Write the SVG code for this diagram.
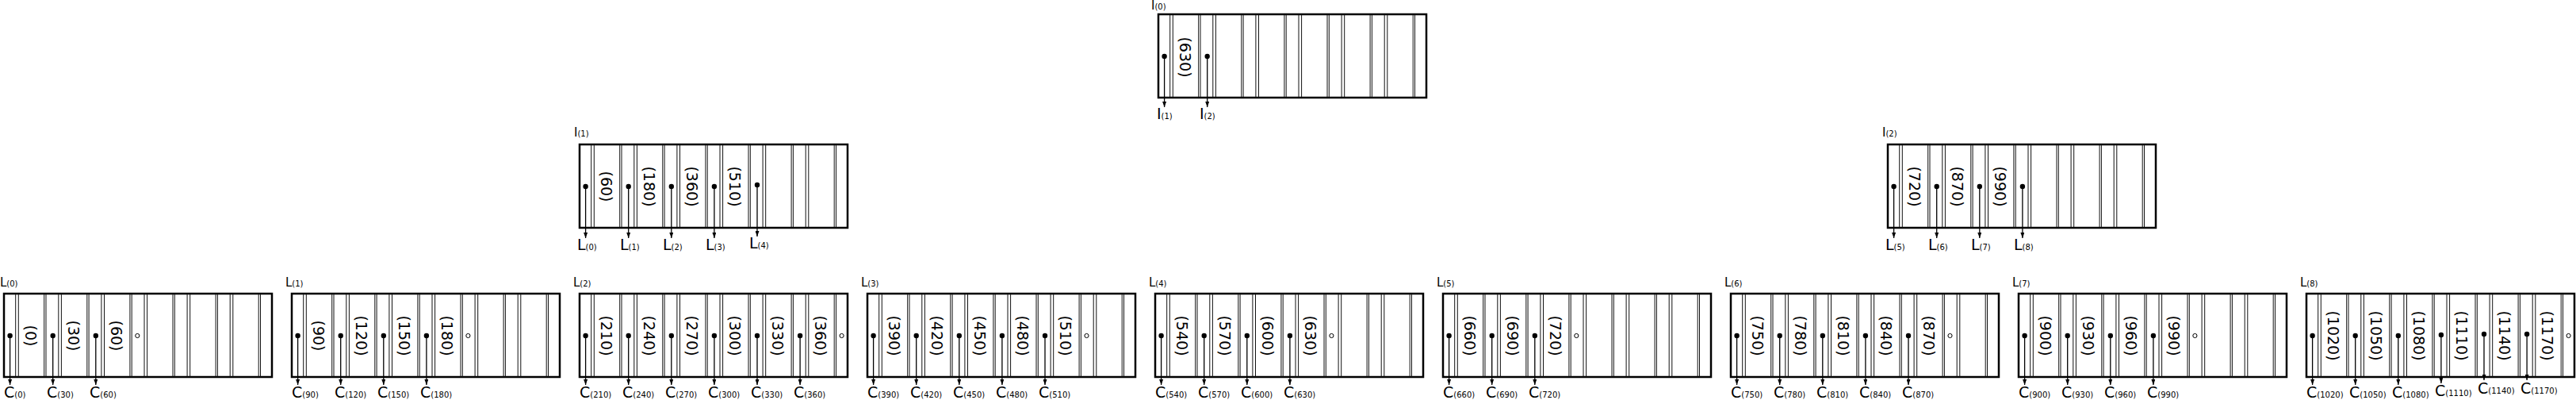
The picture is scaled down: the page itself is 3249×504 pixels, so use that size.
<svg xmlns="http://www.w3.org/2000/svg" xmlns:xlink="http://www.w3.org/1999/xlink" width="3249" height="504" viewBox="0 0 3249 504">
<style>
.bg{fill:#fff}
.box{fill:#fff;stroke:#000;stroke-width:2.5}
.div{fill:none;stroke:#111;stroke-width:1}
.dot{fill:#000}
.hol{fill:#fff;stroke:#000;stroke-width:1}
.arr{stroke:#000;stroke-width:1.3;fill:none;marker-end:url(#ah)}
text{font-family:"DejaVu Sans","Liberation Sans",sans-serif;fill:#000}
.key{font-size:19px;text-anchor:middle;dominant-baseline:central}
.nl{font-size:15px}
.tl{font-size:19px}
.sub{font-size:10px}
</style>
<defs>
<marker id="ah" markerWidth="7" markerHeight="5" refX="7" refY="2.5" orient="auto" markerUnits="userSpaceOnUse"><path d="M0,0 L7,2.5 L0,5 z" fill="#000"/></marker>
<g id="frame">
<rect class="box" x="0" y="0" width="338" height="105"/>
<path class="div" d="M14.7 0V105M18.3 0V105M50.7 0V105M53 0V105M68.8 0V105M72.4 0V105M104.8 0V105M107.1 0V105M122.9 0V105M126.5 0V105M158.9 0V105M161.2 0V105M177 0V105M180.6 0V105M213 0V105M215.3 0V105M231.1 0V105M234.7 0V105M267.1 0V105M269.4 0V105M285.2 0V105M288.8 0V105M321.2 0V105M323.5 0V105"/>
</g>
</defs>
<rect class="bg" x="0" y="0" width="3249" height="504"/>

<g id="I0">
<use xlink:href="#frame" x="1461" y="18"/>
<text class="nl" x="1452" y="12">I<tspan class="sub">(0)</tspan></text>
<circle class="dot" cx="1468.6" cy="71" r="3.2"/><circle class="dot" cx="1522.7" cy="71" r="3.2"/>
<text class="key" transform="translate(1494.5,72) rotate(90)">(630)</text>
</g>

<g id="I1">
<use xlink:href="#frame" x="731" y="182"/>
<text class="nl" x="724" y="172">I<tspan class="sub">(1)</tspan></text>
<circle class="dot" cx="738.6" cy="235" r="3.2"/><circle class="dot" cx="792.7" cy="235" r="3.2"/><circle class="dot" cx="846.8" cy="235" r="3.2"/><circle class="dot" cx="900.9" cy="235" r="3.2"/><circle class="dot" cx="955" cy="233" r="3.2"/>
<text class="key" transform="translate(764.5,235) rotate(90)">(60)</text>
<text class="key" transform="translate(818.6,235) rotate(90)">(180)</text>
<text class="key" transform="translate(872.7,235) rotate(90)">(360)</text>
<text class="key" transform="translate(926.8,235) rotate(90)">(510)</text>
</g>

<g id="I2">
<use xlink:href="#frame" x="2381" y="182"/>
<text class="nl" x="2374" y="172">I<tspan class="sub">(2)</tspan></text>
<circle class="dot" cx="2388.6" cy="235" r="3.2"/><circle class="dot" cx="2442.7" cy="235" r="3.2"/><circle class="dot" cx="2496.8" cy="235" r="3.2"/><circle class="dot" cx="2550.9" cy="235" r="3.2"/>
<text class="key" transform="translate(2414.5,235) rotate(90)">(720)</text>
<text class="key" transform="translate(2468.6,235) rotate(90)">(870)</text>
<text class="key" transform="translate(2522.7,235) rotate(90)">(990)</text>
</g>

<g id="L0">
<use xlink:href="#frame" x="5" y="370"/>
<text class="nl" x="0" y="361">L<tspan class="sub">(0)</tspan></text>
<circle class="dot" cx="12.6" cy="423" r="3.2"/><circle class="dot" cx="66.7" cy="423" r="3.2"/><circle class="dot" cx="120.8" cy="423" r="3.2"/>
<text class="key" transform="translate(38.5,423) rotate(90)">(0)</text>
<text class="key" transform="translate(92.6,423) rotate(90)">(30)</text>
<text class="key" transform="translate(146.7,423) rotate(90)">(60)</text>
<circle class="hol" cx="173.3" cy="423" r="2.6"/>
</g>

<g id="L1">
<use xlink:href="#frame" x="368" y="370"/>
<text class="nl" x="360" y="361">L<tspan class="sub">(1)</tspan></text>
<circle class="dot" cx="375.6" cy="423" r="3.2"/><circle class="dot" cx="429.7" cy="423" r="3.2"/><circle class="dot" cx="483.8" cy="423" r="3.2"/><circle class="dot" cx="537.9" cy="423" r="3.2"/>
<text class="key" transform="translate(401.5,423) rotate(90)">(90)</text>
<text class="key" transform="translate(455.6,423) rotate(90)">(120)</text>
<text class="key" transform="translate(509.7,423) rotate(90)">(150)</text>
<text class="key" transform="translate(563.8,423) rotate(90)">(180)</text>
<circle class="hol" cx="590.4" cy="423" r="2.6"/>
</g>

<g id="L2">
<use xlink:href="#frame" x="731" y="370"/>
<text class="nl" x="723" y="361">L<tspan class="sub">(2)</tspan></text>
<circle class="dot" cx="738.6" cy="423" r="3.2"/><circle class="dot" cx="792.7" cy="423" r="3.2"/><circle class="dot" cx="846.8" cy="423" r="3.2"/><circle class="dot" cx="900.9" cy="423" r="3.2"/><circle class="dot" cx="955" cy="423" r="3.2"/><circle class="dot" cx="1009.1" cy="423" r="3.2"/>
<text class="key" transform="translate(764.5,423) rotate(90)">(210)</text>
<text class="key" transform="translate(818.6,423) rotate(90)">(240)</text>
<text class="key" transform="translate(872.7,423) rotate(90)">(270)</text>
<text class="key" transform="translate(926.8,423) rotate(90)">(300)</text>
<text class="key" transform="translate(980.9,423) rotate(90)">(330)</text>
<text class="key" transform="translate(1035,423) rotate(90)">(360)</text>
<circle class="hol" cx="1061.6" cy="423" r="2.6"/>
</g>

<g id="L3">
<use xlink:href="#frame" x="1094" y="370"/>
<text class="nl" x="1086" y="361">L<tspan class="sub">(3)</tspan></text>
<circle class="dot" cx="1101.6" cy="423" r="3.2"/><circle class="dot" cx="1155.7" cy="423" r="3.2"/><circle class="dot" cx="1209.8" cy="423" r="3.2"/><circle class="dot" cx="1263.9" cy="423" r="3.2"/><circle class="dot" cx="1318" cy="423" r="3.2"/>
<text class="key" transform="translate(1127.5,423) rotate(90)">(390)</text>
<text class="key" transform="translate(1181.6,423) rotate(90)">(420)</text>
<text class="key" transform="translate(1235.7,423) rotate(90)">(450)</text>
<text class="key" transform="translate(1289.8,423) rotate(90)">(480)</text>
<text class="key" transform="translate(1343.9,423) rotate(90)">(510)</text>
<circle class="hol" cx="1370.5" cy="423" r="2.6"/>
</g>

<g id="L4">
<use xlink:href="#frame" x="1457" y="370"/>
<text class="nl" x="1449" y="361">L<tspan class="sub">(4)</tspan></text>
<circle class="dot" cx="1464.6" cy="423" r="3.2"/><circle class="dot" cx="1518.7" cy="423" r="3.2"/><circle class="dot" cx="1572.8" cy="423" r="3.2"/><circle class="dot" cx="1626.9" cy="423" r="3.2"/>
<text class="key" transform="translate(1490.5,423) rotate(90)">(540)</text>
<text class="key" transform="translate(1544.6,423) rotate(90)">(570)</text>
<text class="key" transform="translate(1598.7,423) rotate(90)">(600)</text>
<text class="key" transform="translate(1652.8,423) rotate(90)">(630)</text>
<circle class="hol" cx="1679.4" cy="423" r="2.6"/>
</g>

<g id="L5">
<use xlink:href="#frame" x="1820" y="370"/>
<text class="nl" x="1812" y="361">L<tspan class="sub">(5)</tspan></text>
<circle class="dot" cx="1827.6" cy="423" r="3.2"/><circle class="dot" cx="1881.7" cy="423" r="3.2"/><circle class="dot" cx="1935.8" cy="423" r="3.2"/>
<text class="key" transform="translate(1853.5,423) rotate(90)">(660)</text>
<text class="key" transform="translate(1907.6,423) rotate(90)">(690)</text>
<text class="key" transform="translate(1961.7,423) rotate(90)">(720)</text>
<circle class="hol" cx="1988.3" cy="423" r="2.6"/>
</g>

<g id="L6">
<use xlink:href="#frame" x="2183" y="370"/>
<text class="nl" x="2175" y="361">L<tspan class="sub">(6)</tspan></text>
<circle class="dot" cx="2190.6" cy="423" r="3.2"/><circle class="dot" cx="2244.7" cy="423" r="3.2"/><circle class="dot" cx="2298.8" cy="423" r="3.2"/><circle class="dot" cx="2352.9" cy="423" r="3.2"/><circle class="dot" cx="2407" cy="423" r="3.2"/>
<text class="key" transform="translate(2216.5,423) rotate(90)">(750)</text>
<text class="key" transform="translate(2270.6,423) rotate(90)">(780)</text>
<text class="key" transform="translate(2324.7,423) rotate(90)">(810)</text>
<text class="key" transform="translate(2378.8,423) rotate(90)">(840)</text>
<text class="key" transform="translate(2432.9,423) rotate(90)">(870)</text>
<circle class="hol" cx="2459.5" cy="423" r="2.6"/>
</g>

<g id="L7">
<use xlink:href="#frame" x="2546" y="370"/>
<text class="nl" x="2538" y="361">L<tspan class="sub">(7)</tspan></text>
<circle class="dot" cx="2553.6" cy="423" r="3.2"/><circle class="dot" cx="2607.7" cy="423" r="3.2"/><circle class="dot" cx="2661.8" cy="423" r="3.2"/><circle class="dot" cx="2715.9" cy="423" r="3.2"/>
<text class="key" transform="translate(2579.5,423) rotate(90)">(900)</text>
<text class="key" transform="translate(2633.6,423) rotate(90)">(930)</text>
<text class="key" transform="translate(2687.7,423) rotate(90)">(960)</text>
<text class="key" transform="translate(2741.8,423) rotate(90)">(990)</text>
<circle class="hol" cx="2768.4" cy="423" r="2.6"/>
</g>

<g id="L8">
<use xlink:href="#frame" x="2909" y="370"/>
<text class="nl" x="2901" y="361">L<tspan class="sub">(8)</tspan></text>
<circle class="dot" cx="2916.6" cy="423" r="3.2"/><circle class="dot" cx="2970.7" cy="423" r="3.2"/><circle class="dot" cx="3024.8" cy="423" r="3.2"/><circle class="dot" cx="3078.9" cy="422" r="3.2"/><circle class="dot" cx="3133" cy="421" r="3.2"/><circle class="dot" cx="3187.1" cy="421" r="3.2"/>
<text class="key" transform="translate(2942.5,423) rotate(90)">(1020)</text>
<text class="key" transform="translate(2996.6,423) rotate(90)">(1050)</text>
<text class="key" transform="translate(3050.7,423) rotate(90)">(1080)</text>
<text class="key" transform="translate(3104.8,423) rotate(90)">(1110)</text>
<text class="key" transform="translate(3158.9,423) rotate(90)">(1140)</text>
<text class="key" transform="translate(3213,423) rotate(90)">(1170)</text>
<circle class="hol" cx="3239.6" cy="423" r="2.6"/>
</g>

<g id="connectors">
<path class="arr" d="M1468.6 71V135"/><path class="arr" d="M1522.7 71V135"/>
<text class="tl" x="1459" y="150">I<tspan class="sub">(1)</tspan></text>
<text class="tl" x="1513" y="150">I<tspan class="sub">(2)</tspan></text>

<path class="arr" d="M738.6 235V300"/><path class="arr" d="M792.7 235V300"/><path class="arr" d="M846.8 235V300"/><path class="arr" d="M900.9 235V300"/><path class="arr" d="M955 233V298"/>
<text class="tl" x="728" y="315">L<tspan class="sub">(0)</tspan></text>
<text class="tl" x="782" y="315">L<tspan class="sub">(1)</tspan></text>
<text class="tl" x="836" y="315">L<tspan class="sub">(2)</tspan></text>
<text class="tl" x="890" y="315">L<tspan class="sub">(3)</tspan></text>
<text class="tl" x="945" y="313">L<tspan class="sub">(4)</tspan></text>

<path class="arr" d="M2388.6 235V300"/><path class="arr" d="M2442.7 235V300"/><path class="arr" d="M2496.8 235V300"/><path class="arr" d="M2550.9 235V300"/>
<text class="tl" x="2378" y="315">L<tspan class="sub">(5)</tspan></text>
<text class="tl" x="2432" y="315">L<tspan class="sub">(6)</tspan></text>
<text class="tl" x="2486" y="315">L<tspan class="sub">(7)</tspan></text>
<text class="tl" x="2540" y="315">L<tspan class="sub">(8)</tspan></text>

<path class="arr" d="M12.6 423V485"/><path class="arr" d="M66.7 423V485"/><path class="arr" d="M120.8 423V485"/>
<text class="tl" x="5" y="501">C<tspan class="sub">(0)</tspan></text>
<text class="tl" x="59" y="501">C<tspan class="sub">(30)</tspan></text>
<text class="tl" x="113" y="501">C<tspan class="sub">(60)</tspan></text>

<path class="arr" d="M375.6 423V485"/><path class="arr" d="M429.7 423V485"/><path class="arr" d="M483.8 423V485"/><path class="arr" d="M537.9 423V485"/>
<text class="tl" x="368" y="501">C<tspan class="sub">(90)</tspan></text>
<text class="tl" x="422" y="501">C<tspan class="sub">(120)</tspan></text>
<text class="tl" x="476" y="501">C<tspan class="sub">(150)</tspan></text>
<text class="tl" x="530" y="501">C<tspan class="sub">(180)</tspan></text>

<path class="arr" d="M738.6 423V485"/><path class="arr" d="M792.7 423V485"/><path class="arr" d="M846.8 423V485"/><path class="arr" d="M900.9 423V485"/><path class="arr" d="M955 423V485"/><path class="arr" d="M1009.1 423V485"/>
<text class="tl" x="731" y="501">C<tspan class="sub">(210)</tspan></text>
<text class="tl" x="785" y="501">C<tspan class="sub">(240)</tspan></text>
<text class="tl" x="839" y="501">C<tspan class="sub">(270)</tspan></text>
<text class="tl" x="893" y="501">C<tspan class="sub">(300)</tspan></text>
<text class="tl" x="947" y="501">C<tspan class="sub">(330)</tspan></text>
<text class="tl" x="1001" y="501">C<tspan class="sub">(360)</tspan></text>

<path class="arr" d="M1101.6 423V485"/><path class="arr" d="M1155.7 423V485"/><path class="arr" d="M1209.8 423V485"/><path class="arr" d="M1263.9 423V485"/><path class="arr" d="M1318 423V485"/>
<text class="tl" x="1094" y="501">C<tspan class="sub">(390)</tspan></text>
<text class="tl" x="1148" y="501">C<tspan class="sub">(420)</tspan></text>
<text class="tl" x="1202" y="501">C<tspan class="sub">(450)</tspan></text>
<text class="tl" x="1256" y="501">C<tspan class="sub">(480)</tspan></text>
<text class="tl" x="1310" y="501">C<tspan class="sub">(510)</tspan></text>

<path class="arr" d="M1464.6 423V485"/><path class="arr" d="M1518.7 423V485"/><path class="arr" d="M1572.8 423V485"/><path class="arr" d="M1626.9 423V485"/>
<text class="tl" x="1457" y="501">C<tspan class="sub">(540)</tspan></text>
<text class="tl" x="1511" y="501">C<tspan class="sub">(570)</tspan></text>
<text class="tl" x="1565" y="501">C<tspan class="sub">(600)</tspan></text>
<text class="tl" x="1619" y="501">C<tspan class="sub">(630)</tspan></text>

<path class="arr" d="M1827.6 423V485"/><path class="arr" d="M1881.7 423V485"/><path class="arr" d="M1935.8 423V485"/>
<text class="tl" x="1820" y="501">C<tspan class="sub">(660)</tspan></text>
<text class="tl" x="1874" y="501">C<tspan class="sub">(690)</tspan></text>
<text class="tl" x="1928" y="501">C<tspan class="sub">(720)</tspan></text>

<path class="arr" d="M2190.6 423V485"/><path class="arr" d="M2244.7 423V485"/><path class="arr" d="M2298.8 423V485"/><path class="arr" d="M2352.9 423V485"/><path class="arr" d="M2407 423V485"/>
<text class="tl" x="2183" y="501">C<tspan class="sub">(750)</tspan></text>
<text class="tl" x="2237" y="501">C<tspan class="sub">(780)</tspan></text>
<text class="tl" x="2291" y="501">C<tspan class="sub">(810)</tspan></text>
<text class="tl" x="2345" y="501">C<tspan class="sub">(840)</tspan></text>
<text class="tl" x="2399" y="501">C<tspan class="sub">(870)</tspan></text>

<path class="arr" d="M2553.6 423V485"/><path class="arr" d="M2607.7 423V485"/><path class="arr" d="M2661.8 423V485"/><path class="arr" d="M2715.9 423V485"/>
<text class="tl" x="2546" y="501">C<tspan class="sub">(900)</tspan></text>
<text class="tl" x="2600" y="501">C<tspan class="sub">(930)</tspan></text>
<text class="tl" x="2654" y="501">C<tspan class="sub">(960)</tspan></text>
<text class="tl" x="2708" y="501">C<tspan class="sub">(990)</tspan></text>

<path class="arr" d="M2916.6 423V485"/><path class="arr" d="M2970.7 423V485"/><path class="arr" d="M3024.8 423V485"/><path class="arr" d="M3078.9 422V483"/><path class="arr" d="M3133 421V479"/><path class="arr" d="M3187.1 421V479"/>
<text class="tl" x="2909" y="501">C<tspan class="sub">(1020)</tspan></text>
<text class="tl" x="2963" y="501">C<tspan class="sub">(1050)</tspan></text>
<text class="tl" x="3017" y="501">C<tspan class="sub">(1080)</tspan></text>
<text class="tl" x="3071" y="499">C<tspan class="sub">(1110)</tspan></text>
<text class="tl" x="3125" y="496">C<tspan class="sub">(1140)</tspan></text>
<text class="tl" x="3179" y="496">C<tspan class="sub">(1170)</tspan></text>
</g>
</svg>
